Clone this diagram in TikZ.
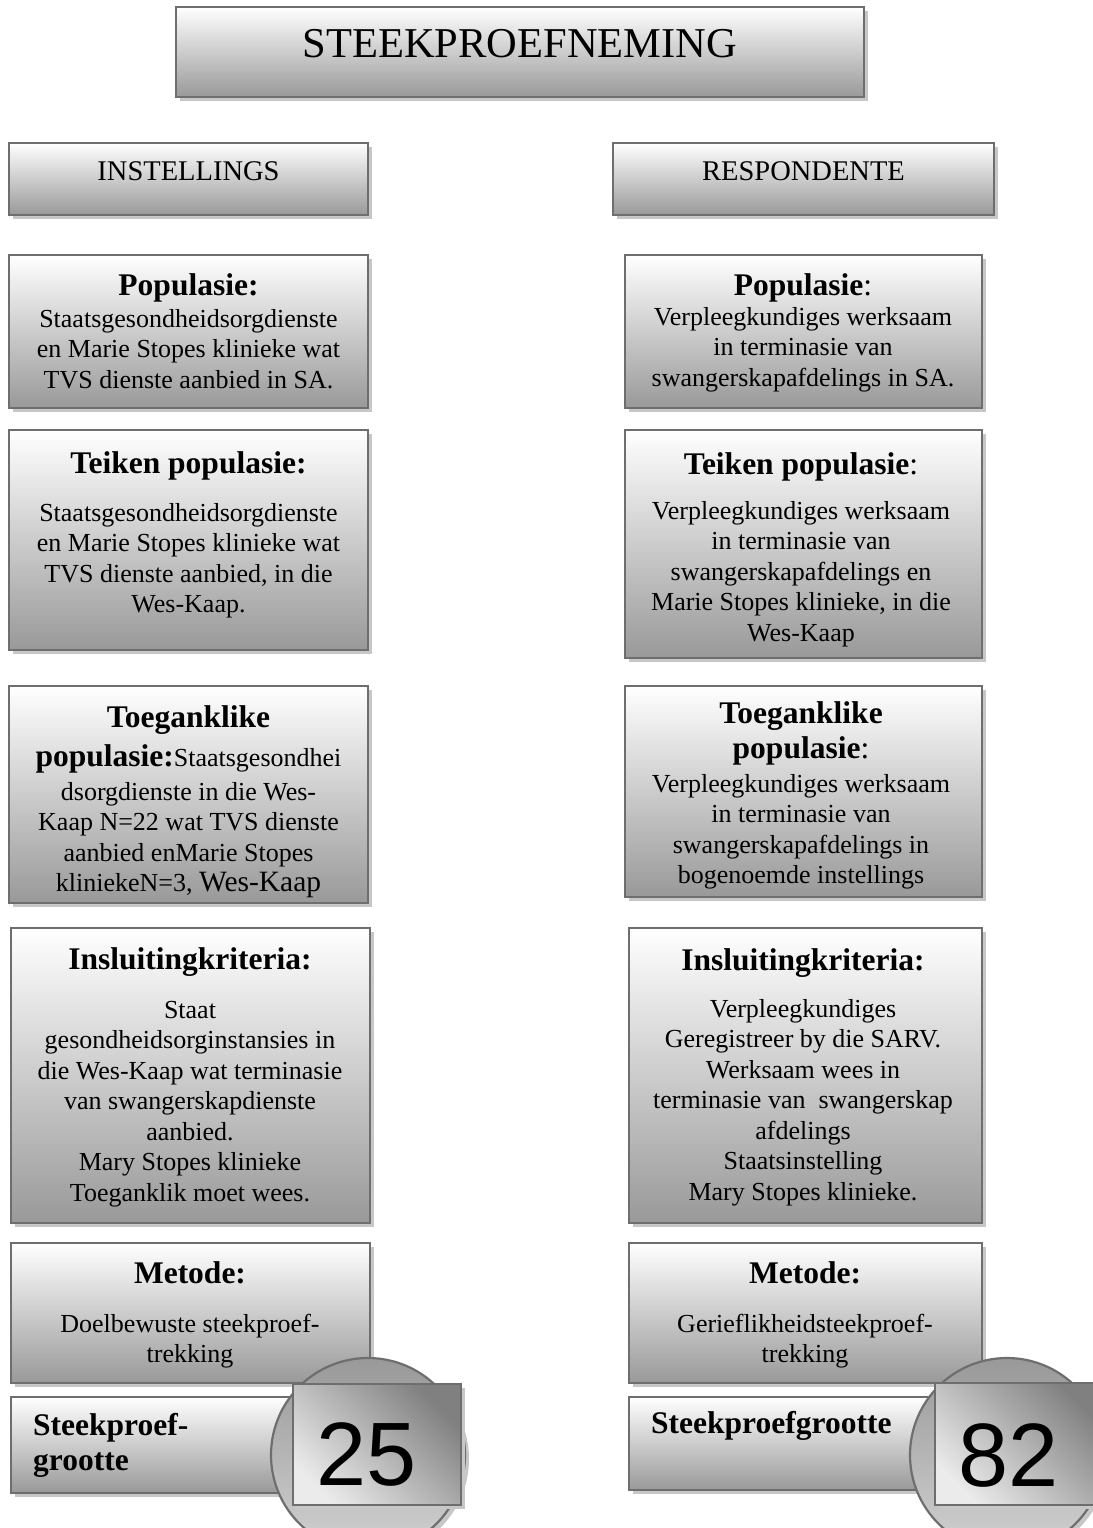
\documentclass[tikz,border=0pt]{standalone}
\usepackage{fontspec}
\setmainfont{Liberation Serif}
\newfontfamily\arialf{Liberation Sans}
\usetikzlibrary{shadows}
\definecolor{boxline}{HTML}{6E6E6E}
\newcommand\fbody{\fontsize{26}{30.5}\selectfont}
\newcommand\fhead{\fontsize{31.5}{36}\selectfont\bfseries}
\newcommand\fheadn{\fontsize{31.5}{36}\selectfont}
\newcommand\fsub{\fontsize{28.5}{33}\selectfont}
\newcommand\ftitle{\fontsize{42.5}{48}\selectfont}
\newcommand\fgro{\fontsize{31.5}{35}\selectfont\bfseries}
\newcommand\fnum{\arialf\fontsize{90}{100}\selectfont}
\newcommand\tblock[4]{\node[blk] (#1) at (#2,{#3-21.35}) {\strut #4};}
\begin{document}
\begin{tikzpicture}[x=1pt,y=-1pt,
  gbox/.style={rectangle, anchor=north west, draw=boxline, line width=2.2pt,
    top color=white, bottom color=black!40, inner sep=0pt, outer sep=0pt,
    drop shadow={shadow xshift=4pt, shadow yshift=-4pt, fill=black!22, opacity=1}},
  gcirc/.style={circle, draw=boxline, line width=2.2pt, minimum size=194pt,
    top color=black!40, bottom color=black!18, inner sep=0pt, outer sep=0pt,
    drop shadow={shadow xshift=4pt, shadow yshift=-4pt, fill=black!22, opacity=1}},
  gsq/.style={rectangle, anchor=north west, draw=boxline, line width=2.2pt,
    top color=black!50, bottom color=black!8, shading angle=-45, inner sep=0pt, outer sep=0pt,
    drop shadow={shadow xshift=4pt, shadow yshift=-4pt, fill=black!22, opacity=1}},
  lbl/.style={inner sep=0pt, anchor=base},
  blk/.style={inner sep=0pt, anchor=north, align=center, font=\fbody}]
\useasboundingbox (0,0) rectangle (1092,1528);
\fill[white] (0,0) rectangle (1092,1528);

% boxes
\node[gbox, minimum width=688pt, minimum height=90pt] (title) at (176,7) {};
\node[gbox, minimum width=359pt, minimum height=72pt] (inst) at (9,143) {};
\node[gbox, minimum width=381pt, minimum height=72pt] (resp) at (613,143) {};
\node[gbox, minimum width=359pt, minimum height=153pt] (lpop) at (9,255) {};
\node[gbox, minimum width=357pt, minimum height=153pt] (rpop) at (625,255) {};
\node[gbox, minimum width=359pt, minimum height=220pt] (ltei) at (9,430) {};
\node[gbox, minimum width=357pt, minimum height=228pt] (rtei) at (625,430) {};
\node[gbox, minimum width=359pt, minimum height=217pt] (ltoe) at (9,686) {};
\node[gbox, minimum width=357pt, minimum height=211pt] (rtoe) at (625,686) {};
\node[gbox, minimum width=359pt, minimum height=295pt] (lins) at (11,928) {};
\node[gbox, minimum width=353pt, minimum height=295pt] (rins) at (629,928) {};
\node[gbox, minimum width=359pt, minimum height=140pt] (lmet) at (11,1243) {};
\node[gbox, minimum width=353pt, minimum height=140pt] (rmet) at (629,1243) {};
\node[gbox, minimum width=359pt, minimum height=96pt] (lgro) at (11,1397) {};
\node[gbox, minimum width=353pt, minimum height=93pt] (rgro) at (629,1397) {};

% title and column heads
\node[lbl, font=\ftitle] (titletx) at (520,57) {STEEKPROEFNEMING};
\node[lbl, font=\fsub] (insttx) at (188.5,180) {INSTELLINGS};
\node[lbl, font=\fsub] (resptx) at (803.5,180) {RESPONDENTE};

% Populasie
\node[lbl, font=\fhead] (lpoph) at (188.5,295) {Populasie:};
\tblock{lpopb}{188.5}{327}{Staatsgesondheidsorgdienste\\en Marie Stopes klinieke wat\\TVS dienste aanbied in SA.}
\node[lbl, font=\fheadn] (rpoph) at (803,295) {{\bfseries Populasie}:};
\tblock{rpopb}{803}{325}{Verpleegkundiges werksaam\\in terminasie van\\swangerskapafdelings in SA.}

% Teiken populasie
\node[lbl, font=\fhead] (lteih) at (188.5,473) {Teiken populasie:};
\tblock{lteib}{188.5}{521}{Staatsgesondheidsorgdienste\\en Marie Stopes klinieke wat\\TVS dienste aanbied, in die\\Wes-Kaap.}
\node[lbl, font=\fheadn] (rteih) at (801,474) {{\bfseries Teiken populasie}:};
\tblock{rteib}{801}{519}{Verpleegkundiges werksaam\\in terminasie van\\swangerskapafdelings en\\Marie Stopes klinieke, in die\\Wes-Kaap}

% Toeganklike populasie
\node[lbl, font=\fhead] (ltoeh1) at (188.5,727) {Toeganklike};
\node[lbl, font=\fhead] (ltoeh2) at (188.5,766) {populasie:{\mdseries\fbody Staatsgesondhei}};
\tblock{ltoeb}{188.5}{800}{dsorgdienste in die Wes-\\Kaap N=22 wat TVS dienste\\aanbied enMarie Stopes\\kliniekeN=3, {\fontsize{29.5}{30.5}\selectfont Wes-Kaap}}
\node[lbl, font=\fhead] (rtoeh1) at (801,723) {Toeganklike};
\node[lbl, font=\fheadn] (rtoeh2) at (801,758) {{\bfseries populasie}:};
\tblock{rtoeb}{801}{792}{Verpleegkundiges werksaam\\in terminasie van\\swangerskapafdelings in\\bogenoemde instellings}

% Insluitingkriteria
\node[lbl, font=\fhead] (linsh) at (190,969) {Insluitingkriteria:};
\tblock{linsb}{190}{1018}{Staat\\gesondheidsorginstansies in\\die Wes-Kaap wat terminasie\\van swangerskapdienste\\aanbied.\\Mary Stopes klinieke\\Toeganklik moet wees.}
\node[lbl, font=\fhead] (rinsh) at (803,970) {Insluitingkriteria:};
\tblock{rinsb}{803}{1017}{Verpleegkundiges\\Geregistreer by die SARV.\\Werksaam wees in\\terminasie van~ swangerskap\\afdelings\\Staatsinstelling\\Mary Stopes klinieke.}

% Metode
\node[lbl, font=\fhead] (lmeth) at (190,1283) {Metode:};
\tblock{lmetb}{190}{1332}{Doelbewuste steekproef-\\trekking}
\node[lbl, font=\fhead] (rmeth) at (805,1283) {Metode:};
\tblock{rmetb}{805}{1332}{Gerieflikheidsteekproef-\\trekking}

% Steekproefgrootte
\node[inner sep=0pt, anchor=north west, align=left, font=\fgro] (lgrotx) at (33,{1435-24.5}) {\strut Steekproef-\\grootte};
\node[lbl, anchor=base west, font=\fgro] (rgrotx) at (651,1433) {Steekproefgrootte};

% circles and number squares
\node[gcirc] (lcirc) at (368,1455) {};
\node[gsq, minimum width=168pt, minimum height=121pt] (lsq) at (293,1384) {};
\node[lbl, font=\fnum] (lnum) at (367,1485) {25};
\node[gcirc] (rcirc) at (1007,1455) {};
\node[gsq, minimum width=170pt, minimum height=122pt] (rsq) at (935,1383) {};
\node[lbl, font=\fnum] (rnum) at (1009,1486) {82};
\end{tikzpicture}
\end{document}
